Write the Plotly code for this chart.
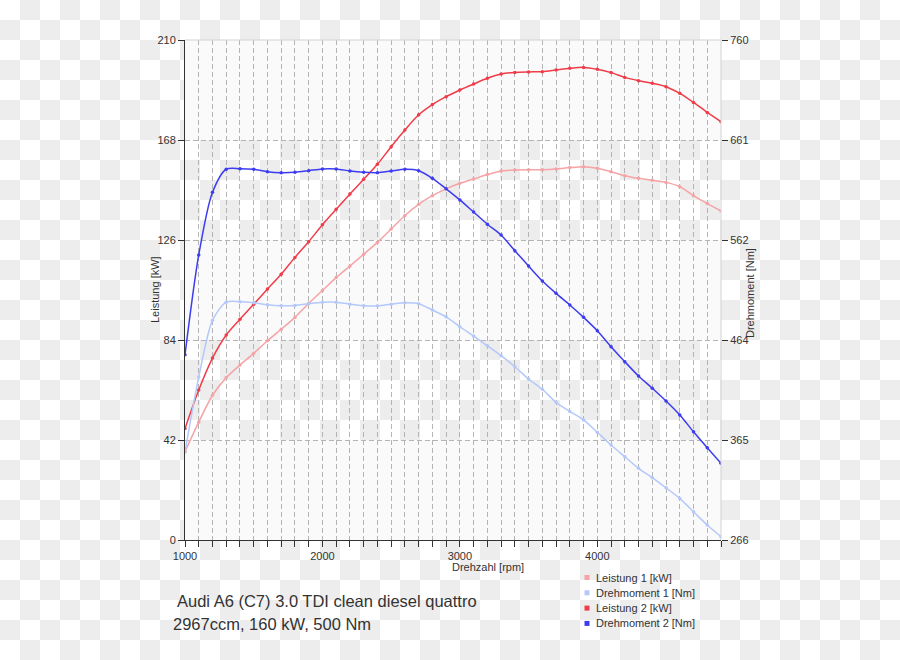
import base64
import plotly.graph_objects as go

# ---------------- data ----------------
rpm = [1000, 1100, 1200, 1300, 1400, 1500, 1600, 1700, 1800, 1900,
       2000, 2100, 2200, 2300, 2400, 2500, 2600, 2700, 2800, 2900,
       3000, 3100, 3200, 3300, 3400, 3500, 3600, 3700, 3800, 3900,
       4000, 4100, 4200, 4300, 4400, 4500, 4600, 4700, 4800, 4900]

leistung_1 = [37.1, 49.5, 60.8, 68.2, 73.5, 78.4, 83.7, 88.5, 93.5, 99.4,
              104.8, 110.2, 115.1, 120.0, 125.0, 130.6, 136.3, 141.0, 144.6, 147.5,
              149.8, 151.6, 153.5, 155.0, 155.4, 155.5, 155.5, 155.8, 156.4, 156.8,
              156.1, 154.7, 153.0, 151.9, 151.1, 150.2, 148.4, 144.6, 141.3, 138.2]

drehmoment_1 = [353, 427, 483, 501, 501.5, 500.5, 498.5, 497.5, 497.8, 499.5,
                501, 501, 499, 497.5, 497.3, 499, 500.5, 499.5, 493.2, 486.5,
                476.7, 467.5, 457.9, 448.1, 437.2, 425.1, 414.9, 402, 393, 384.6,
                372.4, 359.9, 348.3, 336.8, 327.6, 317.5, 307.1, 293.9, 280.8, 269.3]

leistung_2 = [46.8, 63.0, 76.4, 86.1, 92.7, 99.0, 105.4, 111.6, 118.7, 125.3,
              132.4, 138.9, 145.3, 151.5, 157.8, 165.2, 172.2, 178.6, 182.9, 186.2,
              189.0, 191.5, 193.9, 195.7, 196.4, 196.6, 196.7, 197.4, 198.1, 198.5,
              197.7, 196.3, 194.3, 192.9, 191.8, 190.4, 187.6, 183.8, 179.6, 175.7]

drehmoment_2 = [449, 547.6, 609.5, 632.3, 632.9, 632.3, 629.9, 628.9, 629.3, 630.9,
                632.6, 632.6, 630.6, 629.3, 628.9, 630.6, 632.3, 630.9, 623.4, 613,
                602, 590, 578, 567.4, 551.8, 536.7, 521.9, 509.7, 498.2, 486,
                472.8, 457, 442.2, 428, 415.9, 403.3, 389.5, 373, 357.2, 341.8]

series_names = ["Leistung 1 [kW]", "Drehmoment 1 [Nm]", "Leistung 2 [kW]", "Drehmoment 2 [Nm]"]
series_colors = ["#f5a3a6", "#b4c8fa", "#f03c48", "#3c3cf0"]

left_ticks = [0, 42, 84, 126, 168, 210]
right_min, right_max = 266, 760
right_ticktext = ["266", "365", "464", "562", "661", "760"]

title_lines = ["Audi A6 (C7) 3.0 TDI clean diesel quattro", "2967ccm, 160 kW, 500 Nm"]

# ---------------- layout geometry ----------------
W, H = 900, 660
ML, MR, MT, MB = 185, 179, 40, 120
PW, PH = W - ML - MR, H - MT - MB
FONT = "Liberation Sans, Arial, sans-serif"
TXT = "#333333"


def px(x):
    return (x - ML) / PW


def py(y):
    return (H - MB - y) / PH


fig = go.Figure()

series = [(leistung_1, "y"), (drehmoment_1, "y2"), (leistung_2, "y"), (drehmoment_2, "y2")]
for (vals, ax), name, col in zip(series, series_names, series_colors):
    fig.add_trace(go.Scatter(
        x=rpm, y=vals, yaxis=ax, name=name, mode="lines+markers",
        line=dict(color=col, width=1.5, shape="spline", smoothing=0.8),
        marker=dict(color=col, size=3.5), showlegend=False, hoverinfo="skip"))

# checkerboard background as an SVG image
svg = ('<svg xmlns="http://www.w3.org/2000/svg" width="900" height="660">'
       '<defs><pattern id="p" width="40" height="40" patternUnits="userSpaceOnUse">'
       '<rect width="40" height="40" fill="#ffffff"/>'
       '<rect x="20" y="0" width="20" height="20" fill="#ededed"/>'
       '<rect x="0" y="20" width="20" height="20" fill="#ededed"/>'
       '</pattern></defs><rect width="900" height="660" fill="url(#p)"/></svg>')
uri = "data:image/svg+xml;base64," + base64.b64encode(svg.encode()).decode()

shapes = []
# alternating filled bands in the plot area
for i in range(0, len(left_ticks) - 1, 2):
    shapes.append(dict(type="rect", xref="paper", yref="y", x0=0, x1=1,
                       y0=left_ticks[i], y1=left_ticks[i + 1],
                       fillcolor="#fafafa", line=dict(width=0), layer="below"))
# light border top / right
shapes.append(dict(type="line", xref="paper", yref="paper", x0=0, x1=1, y0=1, y1=1,
                   line=dict(color="#d2d2d2", width=1), layer="above"))
shapes.append(dict(type="line", xref="paper", yref="paper", x0=1, x1=1, y0=0, y1=1,
                   line=dict(color="#d2d2d2", width=1), layer="above"))

annotations = [
    dict(text="Leistung [kW]", xref="paper", yref="paper", x=px(147), y=0.5,
         textangle=-90, showarrow=False, font=dict(size=11, color=TXT, family=FONT)),
    dict(text="Drehmoment [Nm]", xref="paper", yref="paper", x=px(758), y=py(293),
         textangle=-90, showarrow=False, font=dict(size=11, color=TXT, family=FONT)),
    dict(text="Drehzahl [rpm]", xref="paper", yref="paper", x=px(450), y=py(567),
         xanchor="left", yanchor="middle", showarrow=False,
         font=dict(size=11, color=TXT, family=FONT)),
    dict(text=title_lines[0], xref="paper", yref="paper", x=px(175), y=py(601),
         xanchor="left", yanchor="middle", showarrow=False,
         font=dict(size=16.5, color=TXT, family=FONT)),
    dict(text=title_lines[1], xref="paper", yref="paper", x=px(171), y=py(624),
         xanchor="left", yanchor="middle", showarrow=False,
         font=dict(size=16.5, color=TXT, family=FONT)),
]

# legend: small squares + text
for k, (name, col) in enumerate(zip(series_names, series_colors)):
    cy = 577.5 + 15.3 * k
    shapes.append(dict(type="rect", xref="paper", yref="paper",
                       x0=px(584.5), x1=px(589.5), y0=py(cy - 2.5), y1=py(cy + 2.5),
                       fillcolor=col, line=dict(width=0), layer="above"))
    annotations.append(dict(text=name, xref="paper", yref="paper", x=px(594), y=py(cy),
                            xanchor="left", yanchor="middle", showarrow=False,
                            font=dict(size=11, color=TXT, family=FONT)))

right_ticks = [right_min + (right_max - right_min) * k / 5 for k in range(6)]
grid = "#b4b4b4"

fig.update_layout(
    width=W, height=H, autosize=False,
    margin=dict(l=ML, r=MR, t=MT, b=MB, pad=0),
    paper_bgcolor="white", plot_bgcolor="rgba(0,0,0,0)",
    font=dict(family=FONT, size=11, color=TXT),
    showlegend=False,
    images=[dict(source=uri, xref="paper", yref="paper", x=px(0), y=py(0),
                 sizex=W / PW, sizey=H / PH, xanchor="left", yanchor="top",
                 sizing="stretch", layer="below")],
    shapes=shapes, annotations=annotations,
    xaxis=dict(range=[rpm[0], rpm[-1]], tick0=1000, dtick=1000, tickformat="d",
               showline=True, linecolor=TXT, linewidth=1,
               ticks="outside", ticklen=6, tickcolor=TXT,
               showgrid=True, gridcolor=grid, griddash="5px,3px", gridwidth=1,
               zeroline=False, tickfont=dict(size=11, color=TXT, family=FONT),
               minor=dict(tick0=1000, dtick=100, ticks="outside", ticklen=6, tickcolor=TXT,
                          showgrid=True, gridcolor=grid, griddash="5px,3px", gridwidth=1)),
    yaxis=dict(range=[left_ticks[0], left_ticks[-1]], tickvals=left_ticks,
               showline=True, linecolor=TXT, linewidth=1,
               ticks="outside", ticklen=6, tickcolor=TXT,
               showgrid=True, gridcolor=grid, griddash="5px,3px", gridwidth=1,
               zeroline=False, tickfont=dict(size=11, color=TXT, family=FONT)),
    yaxis2=dict(range=[right_min, right_max], tickvals=right_ticks, ticktext=right_ticktext,
                overlaying="y", side="right", showline=False, showgrid=False, zeroline=False,
                ticks="outside", ticklen=6, tickcolor=TXT,
                tickfont=dict(size=11, color=TXT, family=FONT)),
)

fig.write_html("out.html")
